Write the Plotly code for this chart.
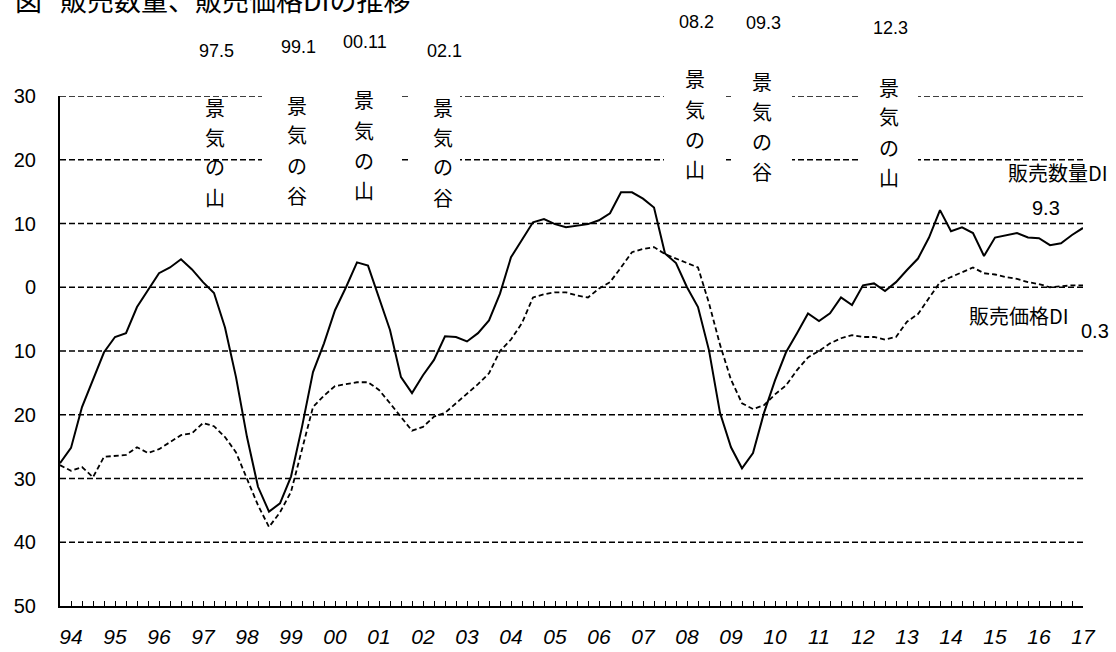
import plotly.graph_objects as go

# Quarterly periods, 1994Q1 .. 2017Q2
years = list(range(1994, 2018))
quarters = [f"{y % 100:02d}Q{q}" for y in years for q in range(1, 5)][:94]

year_labels = ["94", "95", "96", "97", "98", "99", "00", "01", "02", "03", "04", "05",
               "06", "07", "08", "09", "10", "11", "12", "13", "14", "15", "16", "17"]

# 販売数量DI
sales_volume_di = [
    -27.6, -25.2, -18.8, -14.6, -10.2, -7.8, -7.2, -3.1, -0.5, 2.2,
    3.1, 4.4, 2.8, 0.8, -0.9, -6.3, -14.1, -23.5, -31.3, -35.2,
    -33.9, -29.7, -21.9, -13.3, -8.8, -3.6, 0.0, 3.9, 3.4, -1.6,
    -6.7, -14.1, -16.6, -13.8, -11.4, -7.7, -7.8, -8.5, -7.2, -5.2,
    -1.0, 4.7, 7.4, 10.2, 10.7, 9.9, 9.4, 9.6, 9.9, 10.5,
    11.6, 14.9, 14.9, 13.9, 12.5, 5.3, 3.8, 0.0, -3.1, -9.9,
    -19.7, -25.1, -28.4, -26.0, -19.7, -14.6, -10.2, -7.2, -4.1, -5.3,
    -4.1, -1.6, -2.8, 0.3, 0.6, -0.6, 0.8, 2.7, 4.5, 7.8,
    12.1, 8.8, 9.4, 8.5, 4.9, 7.8, 8.1, 8.5, 7.8, 7.7,
    6.6, 6.9, 8.2, 9.3,
]

# 販売価格DI
sales_price_di = [
    -27.9, -28.8, -28.2, -29.8, -26.6, -26.4, -26.3, -25.1, -26.0, -25.4,
    -24.3, -23.2, -22.9, -21.3, -21.8, -23.5, -25.9, -30.2, -34.2, -37.6,
    -35.3, -32.1, -25.5, -18.8, -17.0, -15.5, -15.2, -14.9, -14.9, -16.1,
    -18.2, -20.3, -22.5, -21.9, -20.3, -19.7, -18.2, -16.6, -15.2, -13.5,
    -10.0, -8.2, -5.6, -1.6, -1.1, -0.8, -0.8, -1.3, -1.6, -0.2,
    0.8, 3.1, 5.5, 6.0, 6.3, 5.2, 4.5, 3.9, 3.1, -2.5,
    -9.0, -14.5, -18.2, -19.1, -18.5, -16.8, -15.4, -13.0, -11.0, -10.0,
    -8.8, -8.0, -7.5, -7.8, -7.8, -8.2, -7.8, -5.4, -4.2, -1.7,
    0.8, 1.6, 2.4, 3.1, 2.2, 2.0, 1.6, 1.3, 0.8, 0.5,
    0.0, 0.2, 0.3, 0.3,
]

# Business-cycle turning points
cycle_dates = ["97.5", "99.1", "00.11", "02.1", "08.2", "09.3", "12.3"]
cycle_kinds = ["山", "谷", "山", "谷", "山", "谷", "山"]

y_ticks = [-50, -40, -30, -20, -10, 0, 10, 20, 30]
y_tick_text = ["50", "40", "30", "20", "10", "0", "10", "20", "30"]

x_pos = list(range(len(quarters)))

# plot-area geometry in page pixels
L, R, T, B = 60, 1083, 96, 606
W, H = R - L, B - T


def px(x):
    return (x - L) / W


def py(y):
    return (B - y) / H


JP = "Noto Sans CJK JP"
LAT = "Liberation Sans"

fig = go.Figure()
fig.add_trace(go.Scatter(
    x=x_pos, y=sales_volume_di, mode="lines", name="販売数量DI",
    line=dict(color="black", width=2), hoverinfo="skip",
))
fig.add_trace(go.Scatter(
    x=x_pos, y=sales_price_di, mode="lines", name="販売価格DI",
    line=dict(color="black", width=1.8, dash="5px,3px"), hoverinfo="skip",
))

# year labels sit on the second quarter tick of each year
tick_text = [""] * len(quarters)
for k, lab in enumerate(year_labels):
    idx = 4 * k + 1
    if idx < len(tick_text):
        tick_text[idx] = lab

fig.update_xaxes(
    range=[0, len(quarters) - 1], automargin=False,
    tickmode="array", tickvals=x_pos, ticktext=tick_text,
    ticks="inside", ticklen=5, tickwidth=1.3, tickcolor="black",
    showline=True, linecolor="black", linewidth=2,
    showgrid=False, zeroline=False,
    tickfont=dict(family=LAT, size=21, color="black", style="italic"),
    ticklabelstandoff=11,
)
fig.update_yaxes(
    range=[-50, 30], automargin=False,
    tickmode="array", tickvals=y_ticks, ticktext=y_tick_text,
    ticks="", showline=True, linecolor="black", linewidth=2,
    showgrid=False, zeroline=False,
    tickfont=dict(family=LAT, size=20, color="black"),
    ticklabelstandoff=18,
)

shapes = []
# dashed horizontal grid
for v in y_ticks[1:]:
    shapes.append(dict(type="line", xref="paper", yref="y", x0=0, x1=1, y0=v, y1=v,
                       line=dict(color="black", width=1.3, dash="6px,3px"), layer="below"))

# white panels behind the vertical cycle labels (they hide the grid)
panels = [(262, 401, 86, 212), (409, 460, 86, 212),
          (664, 724, 66, 190), (731, 792, 66, 190), (858, 918, 72, 196)]
for x0, x1, y0, y1 in panels:
    shapes.append(dict(type="rect", xref="paper", yref="paper",
                       x0=px(x0), x1=px(x1), y0=py(y1), y1=py(y0),
                       fillcolor="white", line=dict(width=0), layer="below"))

annotations = []
# centre x, first-character y, date-label y
cycle_x = [215, 297, 364, 443, 695, 762, 889]
cycle_top = [107, 105, 100, 107, 79, 81, 87]
date_y = [51, 47, 42, 51, 22, 23, 28]
for date, kind, cx, cy, dy in zip(cycle_dates, cycle_kinds, cycle_x, cycle_top, date_y):
    annotations.append(dict(xref="paper", yref="paper", x=px(cx + 1), y=py(dy),
                            text=date, showarrow=False, xanchor="center", yanchor="middle",
                            font=dict(family=LAT, size=18, color="black")))
    for j, ch in enumerate("景気の" + kind):
        annotations.append(dict(xref="paper", yref="paper", x=px(cx), y=py(cy + j * 30),
                                text=ch, showarrow=False, xanchor="center", yanchor="middle",
                                font=dict(family=JP, size=20, color="black")))

# series labels and latest values
annotations += [
    dict(xref="paper", yref="paper", x=px(1110), y=py(172), text="販売数量DI",
         showarrow=False, xanchor="right", yanchor="middle",
         font=dict(family=JP, size=20, color="black")),
    dict(xref="paper", yref="paper", x=px(1046), y=py(208), text=f"{sales_volume_di[-1]}",
         showarrow=False, xanchor="center", yanchor="middle",
         font=dict(family=LAT, size=20, color="black")),
    dict(xref="paper", yref="paper", x=px(1071), y=py(315), text="販売価格DI",
         showarrow=False, xanchor="right", yanchor="middle",
         font=dict(family=JP, size=20, color="black")),
    dict(xref="paper", yref="paper", x=px(1095), y=py(331), text=f"{sales_price_di[-1]}",
         showarrow=False, xanchor="center", yanchor="middle",
         font=dict(family=LAT, size=20, color="black")),
    # title, partly above the page edge
    dict(xref="paper", yref="paper", x=px(13), y=py(-1), text="図",
         showarrow=False, xanchor="left", yanchor="middle",
         font=dict(family=JP, size=27, color="black")),
    dict(xref="paper", yref="paper", x=px(58), y=py(-1), text="販売数量、販売価格DIの推移",
         showarrow=False, xanchor="left", yanchor="middle",
         font=dict(family=JP, size=27, color="black")),
]

fig.update_layout(
    width=1116, height=652,
    margin=dict(l=L, r=1116 - R, t=T, b=652 - B, pad=0),
    paper_bgcolor="white", plot_bgcolor="white",
    showlegend=False,
    shapes=shapes, annotations=annotations,
)

fig.write_html("out.html")
